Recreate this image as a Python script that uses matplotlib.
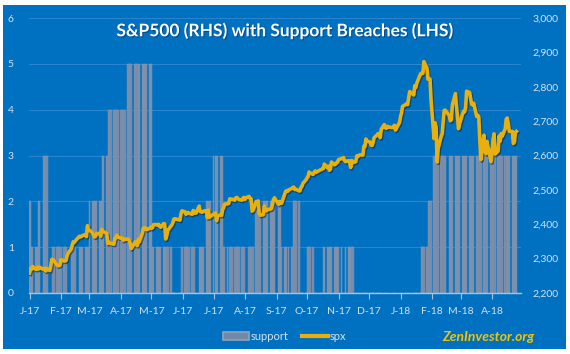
import matplotlib
matplotlib.use("Agg")
import matplotlib.pyplot as plt
import matplotlib.dates as mdates
import matplotlib.patheffects as pe
from matplotlib.patches import Rectangle
from matplotlib.lines import Line2D
from matplotlib.ticker import FuncFormatter, MultipleLocator
import pandas as pd

# trading calendar Jan 2017 - Apr 2018
holidays = ["2017-01-16", "2017-02-20", "2017-04-14", "2017-05-29", "2017-07-04",
            "2017-09-04", "2017-11-23", "2017-12-25", "2018-01-01", "2018-01-15",
            "2018-02-19", "2018-03-30"]

# S&P500 closes, one row per month
spx_2017 = [
    [2258, 2271, 2269, 2277, 2269, 2269, 2275, 2270, 2275, 2268, 2272, 2264, 2271, 2265, 2280, 2298, 2297, 2295, 2281, 2279],
    [2280, 2281, 2297, 2293, 2293, 2295, 2308, 2316, 2328, 2338, 2349, 2347, 2351, 2365, 2363, 2364, 2367, 2370, 2364],
    [2396, 2382, 2383, 2375, 2368, 2363, 2365, 2373, 2373, 2365, 2385, 2381, 2378, 2373, 2344, 2348, 2346, 2344, 2342, 2359, 2361, 2368, 2363],
    [2359, 2360, 2353, 2357, 2356, 2357, 2354, 2345, 2329, 2349, 2342, 2338, 2356, 2349, 2374, 2389, 2387, 2389, 2384],
    [2388, 2391, 2388, 2390, 2399, 2399, 2397, 2400, 2394, 2391, 2402, 2401, 2357, 2366, 2382, 2394, 2398, 2404, 2415, 2416, 2413, 2412],
    [2430, 2439, 2436, 2429, 2433, 2434, 2432, 2429, 2440, 2438, 2432, 2433, 2453, 2437, 2436, 2435, 2438, 2439, 2419, 2441, 2420, 2423],
    [2429, 2433, 2410, 2425, 2427, 2426, 2443, 2448, 2459, 2459, 2461, 2474, 2473, 2473, 2470, 2477, 2478, 2475, 2472, 2470],
    [2476, 2478, 2472, 2477, 2481, 2475, 2474, 2438, 2441, 2466, 2465, 2468, 2430, 2426, 2428, 2453, 2444, 2439, 2443, 2444, 2446, 2458, 2472],
    [2477, 2458, 2466, 2465, 2461, 2488, 2496, 2498, 2496, 2500, 2504, 2507, 2508, 2501, 2502, 2497, 2497, 2507, 2510, 2519],
    [2529, 2535, 2538, 2552, 2549, 2545, 2551, 2555, 2551, 2553, 2558, 2559, 2561, 2562, 2575, 2565, 2569, 2557, 2560, 2581, 2573, 2575],
    [2579, 2580, 2588, 2591, 2591, 2594, 2585, 2582, 2585, 2579, 2565, 2586, 2579, 2582, 2599, 2597, 2602, 2601, 2627, 2626, 2648],
    [2642, 2639, 2630, 2629, 2637, 2652, 2660, 2664, 2663, 2652, 2676, 2690, 2681, 2679, 2685, 2683, 2681, 2683, 2688, 2674],
]
spx_2018 = [
    [2696, 2713, 2724, 2743, 2748, 2751, 2748, 2768, 2786, 2776, 2803, 2798, 2810, 2833, 2839, 2838, 2839, 2873, 2854, 2822, 2824],
    [2822, 2762, 2649, 2695, 2682, 2581, 2620, 2656, 2663, 2699, 2731, 2732, 2716, 2701, 2704, 2747, 2780, 2744, 2714],
    [2678, 2691, 2721, 2728, 2727, 2739, 2787, 2783, 2765, 2749, 2747, 2752, 2713, 2717, 2712, 2644, 2588, 2659, 2613, 2605, 2641],
    [2582, 2614, 2645, 2663, 2604, 2613, 2657, 2642, 2664, 2656, 2678, 2706, 2709, 2693, 2670, 2670, 2635, 2639, 2667, 2670],
]

# number of support breaches, one row per month
support_2017 = [
    [2, 2, 1, 1, 1, 1, 1, 2, 2, 3, 3, 3, 3, 0, 0, 0, 1, 1, 1, 1],
    [1, 1, 1, 1, 1, 1, 0, 0, 0, 1, 1, 1, 1, 1, 1, 1, 1, 1, 1],
    [1, 1, 2, 2, 2, 2, 2, 2, 2, 2, 2, 3, 3, 3, 3, 4, 4, 4, 4, 4, 4, 4, 4],
    [4, 4, 4, 4, 4, 5, 5, 5, 5, 5, 5, 5, 5, 5, 5, 5, 5, 5, 5],
    [5, 5, 5, 1, 1, 1, 1, 1, 1, 1, 1, 1, 1, 1, 1, 1, 0, 0, 0, 0, 0, 0],
    [0, 1, 1, 1, 1, 1, 1, 1, 1, 1, 0, 0, 1, 1, 1, 1, 1, 2, 2, 2, 2, 2],
    [3, 3, 3, 3, 3, 3, 3, 1, 1, 1, 0, 1, 1, 1, 1, 0, 1, 1, 1, 1],
    [1, 1, 0, 0, 1, 1, 1, 1, 1, 2, 2, 2, 2, 2, 2, 2, 2, 2, 2, 2, 2, 2, 2],
    [2, 2, 2, 2, 1, 1, 1, 1, 0, 1, 1, 1, 2, 2, 2, 2, 0, 0, 0, 0],
    [0, 0, 1, 1, 1, 1, 0, 0, 0, 0, 0, 0, 0, 1, 1, 1, 1, 1, 1, 1, 1, 1],
    [1, 1, 1, 1, 0, 0, 0, 1, 1, 1, 1, 1, 1, 0, 0, 0, 0, 0, 0, 0, 0],
    [0] * 20,
]
support_2018 = [
    [0] * 15 + [1, 1, 1, 1, 1, 2],
    [2, 2] + [3] * 17,
    [3] * 21,
    [3] * 20,
]

spx = [v for month in spx_2017 + spx_2018 for v in month]
support = [v for month in support_2017 + support_2018 for v in month]

dates = pd.bdate_range("2017-01-03", "2018-04-27")
dates = dates[~dates.isin(pd.to_datetime(holidays))]

BG = "#0070C0"
BAR = "#7389A8"
BAR_EDGE = "#8799B3"
GOLD = "#E8B00E"
TXT = "#D6E2EF"
GRID = "#2A84CE"

plt.rcParams["font.family"] = ["Lato", "DejaVu Sans"]

W, H = 570, 354
fig = plt.figure(figsize=(W / 100, H / 100), dpi=100)
fig.patch.set_facecolor("white")
fig.add_artist(Rectangle((3 / W, 5 / H), 563 / W, 344 / H, transform=fig.transFigure,
                         facecolor=BG, edgecolor="none", zorder=-1))

ax = fig.add_axes([29 / W, 61 / H, 492 / W, 275 / H])
ax.set_facecolor("none")
# wider than a day so weekends only leave thin dark seams
ax.bar(dates, support, width=1.5, color=BAR, edgecolor=BAR_EDGE, linewidth=0.3,
       zorder=2)
ax.set_ylim(0, 6)
ax.set_xlim(pd.Timestamp("2017-01-02 12:00"), pd.Timestamp("2018-05-01 12:00"))
ax.yaxis.set_major_locator(MultipleLocator(1))
ax.grid(axis="y", color=GRID, lw=0.8, zorder=0)
ax.set_axisbelow(True)

ax.xaxis.set_major_locator(mdates.MonthLocator(bymonthday=3))
ax.xaxis.set_major_formatter(FuncFormatter(
    lambda x, pos: mdates.num2date(x).strftime("%b")[0] + "-" + mdates.num2date(x).strftime("%y")))

for s in ["top", "left", "right"]:
    ax.spines[s].set_visible(False)
ax.spines["bottom"].set_color("#A8C3E0")
ax.spines["bottom"].set_linewidth(1.0)
ax.spines["bottom"].set_zorder(3)
ax.tick_params(axis="x", colors="#A8C3E0", labelcolor=TXT, labelsize=7.5, length=4,
               direction="out", pad=6)
ax.tick_params(axis="y", length=0, labelcolor=TXT, labelsize=7.5, pad=11)

ax2 = ax.twinx()
ax2.plot(dates, spx, color=GOLD, lw=2.6, solid_joinstyle="round", zorder=3,
         path_effects=[pe.SimpleLineShadow(offset=(0.8, -1.0), shadow_color="#062a55", alpha=0.6),
                       pe.Normal()])
ax2.set_ylim(2200, 3000)
ax2.yaxis.set_major_locator(MultipleLocator(100))
ax2.yaxis.set_major_formatter(FuncFormatter(lambda v, pos: f"{v:,.0f}"))
ax2.tick_params(axis="y", length=0, labelcolor=TXT, labelsize=7.5, pad=8)
for s in ax2.spines.values():
    s.set_visible(False)

fig.text(285 / W, 1 - 31 / H, "S&P500 (RHS) with Support Breaches (LHS)", ha="center",
         va="center", color="white", fontsize=12.5, fontweight="bold",
         path_effects=[pe.withSimplePatchShadow(offset=(0.8, -0.8), shadow_rgbFace="#043766", alpha=0.6)])

handles = [Rectangle((0, 0), 1, 1, facecolor=BAR, edgecolor="#8EA2BD", lw=1.2),
           Line2D([0], [0], color=GOLD, lw=3)]
leg = fig.legend(handles, ["support", "spx"], loc="center", bbox_to_anchor=(285 / W, 1 - 336 / H),
                 ncol=2, frameon=False, fontsize=8, labelcolor=TXT, handlelength=2.3,
                 handletextpad=0.2, columnspacing=1.2)

fig.text(488 / W, 1 - 337 / H, "ZenInvestor.org", ha="center", va="center", color="#F2C300",
         fontsize=10, fontweight="bold", style="italic")

fig.savefig("out.png", dpi=100, facecolor="white")
